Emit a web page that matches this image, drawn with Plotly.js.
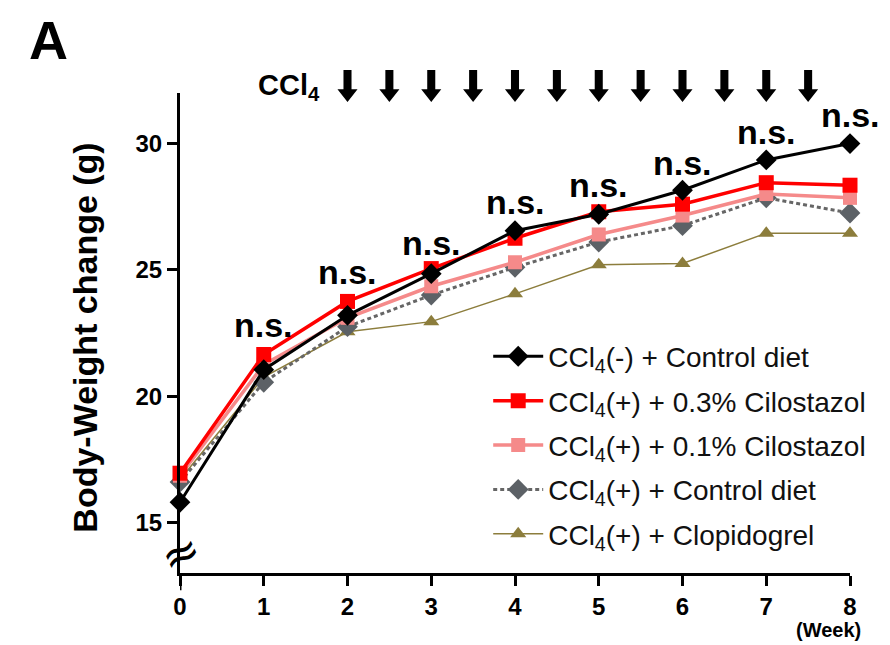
<!DOCTYPE html>
<html>
<head>
<meta charset="utf-8">
<script src="https://cdn.plot.ly/plotly-3.0.1.min.js"></script>
<style>
  html, body { margin: 0; padding: 0; background: #fff; }
  #chart { width: 890px; height: 645px; }
</style>
</head>
<body>
<div id="chart"></div>
<script>
// Body weight (g) per week for each treatment group
const weeks = [0, 1, 2, 3, 4, 5, 6, 7, 8];
const ctrlNoCCl4   = [15.8, 21.05, 23.2, 24.85, 26.55, 27.2, 28.15, 29.35, 30.0];
const cilo03       = [16.95, 21.65, 23.75, 25.05, 26.25, 27.3, 27.6, 28.45, 28.35];
const cilo01       = [16.85, 21.25, 23.1, 24.35, 25.3, 26.4, 27.15, 28.0, 27.85];
const ctrlCCl4     = [16.6, 20.55, 22.75, 24.0, 25.1, 26.1, 26.75, 27.85, 27.25];
const clopidogrel  = [16.7, 20.75, 22.55, 22.95, 24.05, 25.2, 25.25, 26.45, 26.45];

const groupNames = [
  'CCl<sub>4</sub>(-) + Control diet',
  'CCl<sub>4</sub>(+) + 0.3% Cilostazol',
  'CCl<sub>4</sub>(+) + 0.1% Cilostazol',
  'CCl<sub>4</sub>(+) + Control diet',
  'CCl<sub>4</sub>(+) + Clopidogrel'
];

// Weeks carrying a significance label, and the label heights
const nsWeeks = [1, 2, 3, 4, 5, 6, 7, 8];
const nsY     = [22.82, 24.93, 26.06, 27.70, 28.36, 29.23, 30.47, 31.13];
const nsText  = 'n.s.';

// CCl4 injections (twice weekly from week 2)
const injectionWeeks = [2, 2.5, 3, 3.5, 4, 4.5, 5, 5.5, 6, 6.5, 7, 7.5];

const FONT = 'Liberation Sans, Arial, sans-serif';

function series(y, name, group, rank, color, symbol, size, lineWidth, dash, markerColor) {
  return {
    x: weeks, y: y, name: name, type: 'scatter', mode: 'lines+markers',
    legendgroup: group, legendrank: rank, cliponaxis: false,
    line: { color: color, width: lineWidth, dash: dash || 'solid' },
    marker: { color: markerColor || color, symbol: symbol, size: size, line: { width: 0 } }
  };
}

// drawn bottom-up so the CCl4(-) line sits on top
const traces = [
  series(clopidogrel, groupNames[4], 'g5', 5, '#8c7d3c', 'triangle-up', 14, 1.5),
  series(ctrlCCl4, groupNames[3], 'g4', 4, '#666666', 'diamond', 16, 3, '4px,3px', '#5c6166'),
  series(cilo01, groupNames[2], 'g3', 3, '#f58a8a', 'square', 14, 3.5),
  series(cilo03, groupNames[1], 'g2', 2, '#ff0000', 'square', 15, 3.5),
  series(ctrlNoCCl4, groupNames[0], 'g1', 1, '#000000', 'diamond', 16, 3)
];

const annotations = [];
nsWeeks.forEach((w, i) => {
  annotations.push({
    x: w, y: nsY[i], xref: 'x', yref: 'y', text: '<b>' + nsText + '</b>',
    showarrow: false, font: { family: FONT, size: 34, color: '#000' }
  });
});
annotations.push(
  { x: 0.163, y: 1.012, xref: 'paper', yref: 'paper', text: '<b>CCl<sub>4</sub></b>',
    showarrow: false, xanchor: 'center', yanchor: 'middle',
    font: { family: FONT, size: 29, color: '#000' } },
  { x: -0.197, y: 1.11, xref: 'paper', yref: 'paper', text: '<b>A</b>',
    showarrow: false, xanchor: 'center', yanchor: 'middle',
    font: { family: FONT, size: 54, color: '#000' } },
  { x: -0.142, y: 0.49, xref: 'paper', yref: 'paper', text: '<b>Body-Weight change (g)</b>',
    textangle: -90, showarrow: false, xanchor: 'center', yanchor: 'middle',
    font: { family: FONT, size: 34, color: '#000' } },
  { x: 1.02, y: -0.118, xref: 'paper', yref: 'paper', text: '<b>(Week)</b>',
    showarrow: false, xanchor: 'right', yanchor: 'middle',
    font: { family: FONT, size: 20, color: '#000' } },
  { x: 0, y: 13.8, xref: 'x', yref: 'y', text: '≈',
    showarrow: false, textangle: -25, xanchor: 'center', yanchor: 'middle',
    font: { family: 'DejaVu Sans, sans-serif', size: 46, color: '#000' } }
);

// downward injection arrows above the plot (x in weeks, y in paper units)
const shapes = injectionWeeks.map(w => {
  const sw = 0.048, hw = 0.12;            // shaft / head half-widths in weeks
  const top = 1.048, neck = 1.008, tip = 0.981;
  return {
    type: 'path', xref: 'x', yref: 'paper', layer: 'above',
    path: `M${w - sw},${top} L${w + sw},${top} L${w + sw},${neck} L${w + hw},${neck} ` +
          `L${w},${tip} L${w - hw},${neck} L${w - sw},${neck} Z`,
    fillcolor: '#000', line: { width: 0 }
  };
});
// y axis continues a little below the x axis
shapes.push({
  type: 'line', xref: 'x', yref: 'paper', x0: 0, x1: 0, y0: 0, y1: -0.036,
  line: { color: '#000', width: 3 }, layer: 'above'
});

const layout = {
  width: 890, height: 645,
  margin: { l: 180, r: 40, t: 93, b: 72 },
  paper_bgcolor: '#fff', plot_bgcolor: '#fff',
  font: { family: FONT, color: '#000' },
  showlegend: true,
  legend: {
    x: 0.46, y: 0.503, xref: 'paper', yref: 'paper', xanchor: 'left', yanchor: 'top',
    bgcolor: 'rgba(0,0,0,0)', borderwidth: 0,
    font: { family: FONT, size: 28, color: '#111' },
    traceorder: 'grouped', tracegroupgap: 5, itemwidth: 50
  },
  xaxis: {
    range: [0, 8], tickvals: weeks, ticktext: weeks.map(String),
    showgrid: false, zeroline: false, showline: true, linecolor: '#000', linewidth: 3,
    ticks: 'outside', ticklen: 10, tickwidth: 3, tickcolor: '#000',
    tickfont: { family: FONT, size: 24, weight: 'bold', color: '#000' },
    fixedrange: true
  },
  yaxis: {
    range: [13, 32], tickvals: [15, 20, 25, 30],
    showgrid: false, zeroline: false, showline: true, linecolor: '#000', linewidth: 3,
    ticks: 'outside', ticklen: 10, tickwidth: 3, tickcolor: '#000',
    tickfont: { family: FONT, size: 24, weight: 'bold', color: '#000' },
    fixedrange: true
  },
  annotations: annotations,
  shapes: shapes
};

Plotly.newPlot('chart', traces, layout, { displayModeBar: false, staticPlot: true });
</script>
</body>
</html>
